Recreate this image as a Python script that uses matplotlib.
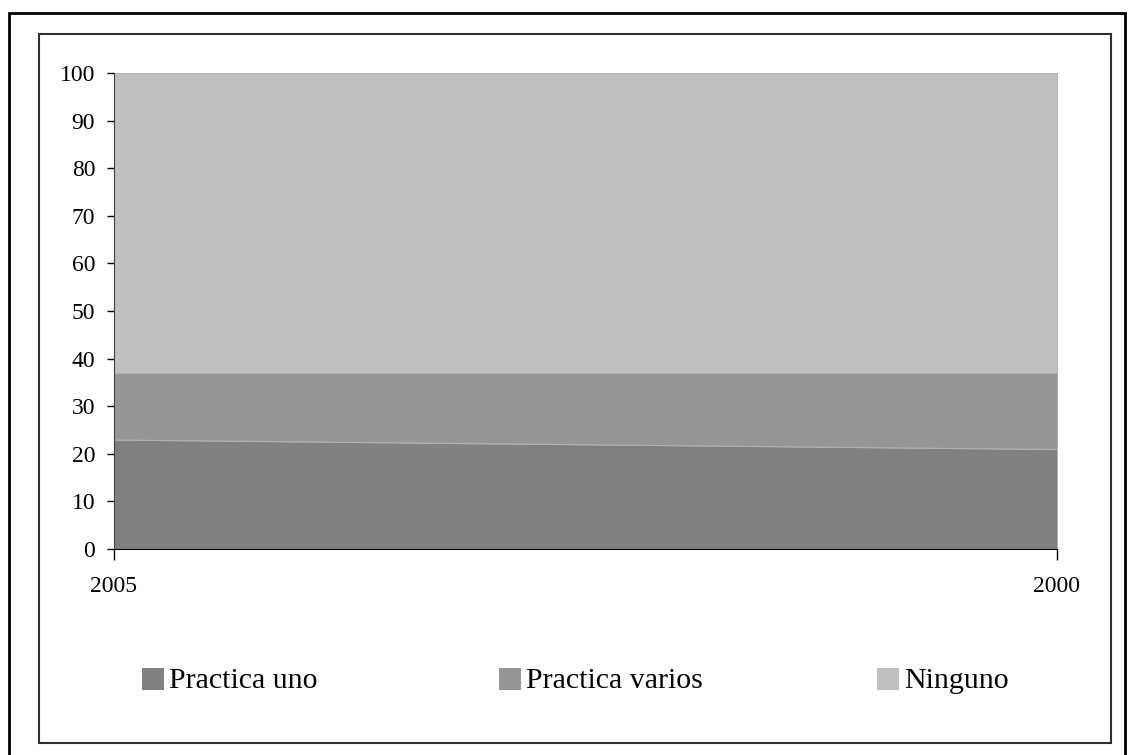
import numpy as np
import matplotlib.pyplot as plt
from matplotlib.patches import Rectangle

years = ["2005", "2000"]
practica_uno = [23, 21]
practica_varios = [14, 16]
ninguno = [63, 63]

series_names = ["Practica uno", "Practica varios", "Ninguno"]
colores = ["#808080", "#969696", "#c0c0c0"]

plt.rcParams['font.family'] = ['Liberation Serif', 'DejaVu Serif']

fig = plt.figure(figsize=(11.28, 7.55), dpi=100)
ax = fig.add_axes([114/1128, 1-549/755, (1057-114)/1128, (549-73)/755])

x = np.arange(len(years))
ax.stackplot(x, practica_uno, practica_varios, ninguno, colors=colores,
             edgecolor="#b0b0b0", linewidth=0.8)

ax.set_xlim(0, 1)
ax.set_ylim(0, 100)
ax.set_yticks(np.arange(0, 101, 10))
ax.set_xticks(x)
ax.set_xticklabels(years)
ax.tick_params(axis="y", labelsize=17, length=5, width=1, pad=8.5)
ax.tick_params(axis="x", labelsize=17, length=8, width=1, pad=11.5)
ax.spines["top"].set_visible(False)
ax.spines["right"].set_visible(False)
ax.spines["left"].set_color("#404040")
ax.spines["bottom"].set_color("black")

# marcos exteriores
fig.patches.append(Rectangle((9/1128, 1-760/755), (1125-9)/1128, (760-13)/755,
                             transform=fig.transFigure, fill=False,
                             edgecolor="black", linewidth=2))
fig.patches.append(Rectangle((39/1128, 1-743/755), (1111-39)/1128, (743-34)/755,
                             transform=fig.transFigure, fill=False,
                             edgecolor="#303030", linewidth=1.5))

# leyenda manual
leg_x = [142, 499, 877]
for px, nombre, col in zip(leg_x, series_names, colores):
    fig.patches.append(Rectangle((px/1128, 1-690/755), 22/1128, 22/755,
                                 transform=fig.transFigure, facecolor=col,
                                 edgecolor="none"))
    fig.text((px+27)/1128, 1-688/755, nombre, fontsize=21.5, va="baseline", ha="left")

fig.savefig("out.png", dpi=100)
